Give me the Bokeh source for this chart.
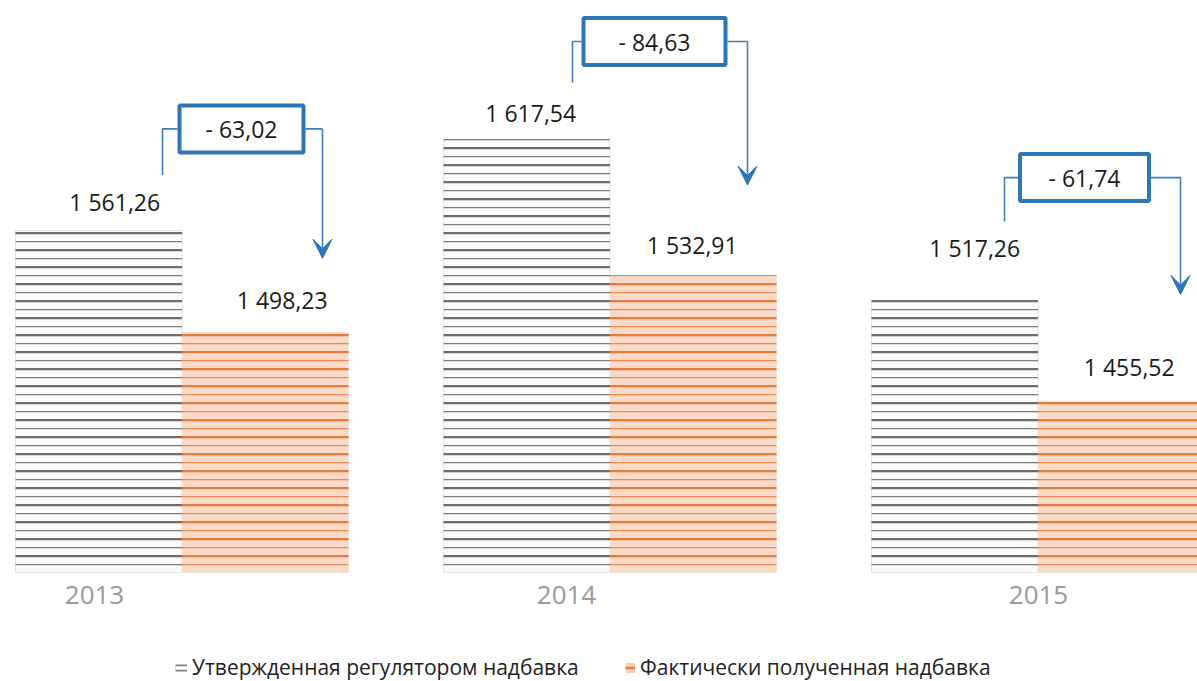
from bokeh.plotting import figure
from bokeh.models import Range1d, Arrow, VeeHead, Legend, LegendItem
from bokeh.core.properties import value
from bokeh.embed import file_html
from bokeh.resources import INLINE

# ---------------- data ----------------
years = ["2013", "2014", "2015"]
approved = [1561.26, 1617.54, 1517.26]
actual = [1498.23, 1532.91, 1455.52]
diffs = [63.02, 84.63, 61.74]
series_names = ["Утвержденная регулятором надбавка", "Фактически полученная надбавка"]


def fmt(v):
    return f"{v:,.2f}".replace(",", " ").replace(".", ",")


# ---------------- layout (pixels) ----------------
W, H = 1197, 681
PXX = 428.0          # px per category
PXY = 1.613          # px per value unit
BASE = 1349.3        # value at bar baseline
x0 = -181.5 / PXX
y1 = BASE + 572 / PXY
BAR_W = 166.5 / PXX
OFF = BAR_W / 2

FONT = "Open Sans"
BLUE = "#2e75b6"
BLUE_L = "#3b7fc1"

p = figure(width=W, height=H, x_range=Range1d(x0, x0 + W / PXX),
           y_range=Range1d(y1 - H / PXY, y1), output_backend="svg",
           toolbar_location=None, min_border=0, outline_line_color=None,
           x_axis_type=None, y_axis_type=None,
           background_fill_color="white", border_fill_color="white")
p.xgrid.visible = False
p.ygrid.visible = False

idx = list(range(len(years)))
gx = [i - OFF for i in idx]
ox = [i + OFF for i in idx]

# bars
p.vbar(x=gx, top=approved, bottom=BASE, width=BAR_W,
       fill_color="#fbfbfb", line_color="#e4e4e4", line_width=1)
p.vbar(x=ox, top=actual, bottom=BASE, width=BAR_W,
       fill_color="#f9dac8", line_color="#f3e4da", line_width=1)


# stripes (alternating thick / thin horizontal lines)
def stripes(xcs, tops, start_px):
    xs, ys = [], []
    for xc, t in zip(xcs, tops):
        h = (t - BASE) * PXY
        ypx = start_px
        while ypx <= h + 1.5:
            yv = BASE + ypx / PXY
            xs.append([xc - OFF, xc + OFF])
            ys.append([yv, yv])
            ypx += 17
    return xs, ys


for xcs, tops, col_thick, col_thin in [(gx, approved, "#6d6d6d", "#7c7c7c"),
                                       (ox, actual, "#e47c3c", "#e88b52")]:
    xs, ys = stripes(xcs, tops, 16.3)
    p.multi_line(xs=xs, ys=ys, line_color=col_thick, line_width=2.2)
    xs, ys = stripes(xcs, tops, 7.8)
    p.multi_line(xs=xs, ys=ys, line_color=col_thin, line_width=1.2)

# value labels (dy = px from bar top to text centre)
LBL_G_DX = [16, 4, 20]
LBL_G_DY = [28.5, 26.8, 53.3]
LBL_O_DX = [17, -1, 8]
LBL_O_DY = [32.7, 31.1, 34.5]
p.text(x=[x + d / PXX for x, d in zip(gx, LBL_G_DX)],
       y=[v + d / PXY for v, d in zip(approved, LBL_G_DY)],
       text=[fmt(v) for v in approved], text_font=value(FONT),
       text_font_size="23px", text_color="#1a1a1a", text_align="center",
       text_baseline="middle")
p.text(x=[x + d / PXX for x, d in zip(ox, LBL_O_DX)],
       y=[v + d / PXY for v, d in zip(actual, LBL_O_DY)],
       text=[fmt(v) for v in actual], text_font=value(FONT),
       text_font_size="23px", text_color="#1a1a1a", text_align="center",
       text_baseline="middle")

# year labels
YEAR_DX = [-87.5, -43.5, 0.5]
p.text(x=[i + d / PXX for i, d in zip(idx, YEAR_DX)],
       y=[BASE - 22 / PXY] * len(years), text=years, text_font=value(FONT),
       text_font_size="26px", text_color="#999999", text_align="center",
       text_baseline="middle")

# difference annotations
BOX_DX = [59.5, 44.5, 46.5]
BOX_DY = [101.7, 98.3, 124.0]
BOX_W = [128, 146, 133]
BOX_H = 51
LEFT_DX = [-19.5, -37.5, -33.5]
LEFT_DY = [55.7, 57.3, 80.0]
RIGHT_DX = [140.5, 137.5, 142.5]
TIP_DY = [74.0, 91.3, 106.7]

bx = [i + d / PXX for i, d in zip(idx, BOX_DX)]
by = [v + d / PXY for v, d in zip(approved, BOX_DY)]

cxs, cys = [], []
for k in idx:
    xl = k + LEFT_DX[k] / PXX
    yl = approved[k] + LEFT_DY[k] / PXY
    left_edge = bx[k] - (BOX_W[k] / 2) / PXX
    right_edge = bx[k] + (BOX_W[k] / 2) / PXX
    xr = k + RIGHT_DX[k] / PXX
    cxs.append([left_edge, xl, xl])
    cys.append([by[k], by[k], yl])
    cxs.append([right_edge, xr])
    cys.append([by[k], by[k]])
    tip = actual[k] + TIP_DY[k] / PXY
    p.add_layout(Arrow(x_start=xr, y_start=by[k], x_end=xr, y_end=tip,
                       line_color=BLUE_L, line_width=1.6,
                       end=VeeHead(size=19, fill_color=BLUE, line_color=BLUE,
                                   line_width=1)))
p.multi_line(xs=cxs, ys=cys, line_color=BLUE_L, line_width=1.6)

p.rect(x=bx, y=by, width=[w - 4 for w in BOX_W], height=BOX_H - 4,
       width_units="screen", height_units="screen", fill_color="white",
       line_color=BLUE, line_width=4)
p.text(x=bx, y=by, text=["- " + fmt(d) for d in diffs], text_font=value(FONT),
       text_font_size="23px", text_color="#1a1a1a", text_align="center",
       text_baseline="middle")

# legend (icons via off-screen dummy renderers)
far_x = [x0 - 5, x0 - 4]
far_y = [BASE, BASE]
g1 = p.line(x=far_x, y=far_y, line_color="#808080", line_width=7)
g2 = p.line(x=far_x, y=far_y, line_color="white", line_width=3.5)
o1 = p.quad(left=[x0 - 5], right=[x0 - 4], top=[BASE + 1], bottom=[BASE],
            fill_color="#f8cfb5", line_color="#f8cfb5", line_width=1)
o2 = p.line(x=far_x, y=far_y, line_color="#e8803f", line_width=2.5)

common = dict(orientation="horizontal", padding=0, margin=0, spacing=0,
              background_fill_alpha=0, border_line_alpha=0,
              label_text_font=FONT, label_text_font_size="21px",
              label_text_color="#222222", label_standoff=5,
              glyph_height=11)
leg1 = Legend(items=[LegendItem(label=series_names[0], renderers=[g1, g2])],
              location=(175, 0), glyph_width=12, **common)
leg2 = Legend(items=[LegendItem(label=series_names[1], renderers=[o1, o2])],
              location=(625, 0), glyph_width=10, **common)
p.add_layout(leg1)
p.add_layout(leg2)

open("out.html", "w").write(file_html(p, INLINE))
